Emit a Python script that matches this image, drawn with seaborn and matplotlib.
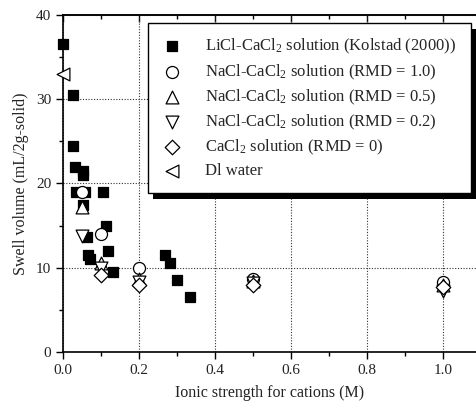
import numpy as np
import pandas as pd
import matplotlib
matplotlib.use("Agg")
import matplotlib.pyplot as plt
from matplotlib.patches import Rectangle
from matplotlib.transforms import IdentityTransform
from matplotlib.ticker import FixedLocator
import seaborn as sns

# LiCl-CaCl2 solution (Kolstad 2000)
licl_x = [0.0, 0.026, 0.026, 0.032, 0.053, 0.053, 0.034, 0.058, 0.106, 0.053,
          0.113, 0.064, 0.066, 0.070, 0.119, 0.132, 0.268, 0.282, 0.299, 0.334]
licl_y = [36.5, 30.5, 24.5, 22.0, 21.5, 21.0, 19.0, 19.0, 19.0, 17.4,
          15.0, 13.6, 11.5, 11.0, 12.0, 9.5, 11.5, 10.5, 8.5, 6.5]

# NaCl-CaCl2 solutions at different RMD
nacl_x = [0.05, 0.1, 0.2, 0.5, 1.0]
rmd10_y = [19.0, 14.0, 10.0, 8.6, 8.3]
rmd05_y = [17.2, 10.5, 8.7, 8.4, 8.0]
rmd02_y = [13.8, 10.0, 8.3, 8.2, 7.2]

# CaCl2 solution (RMD = 0)
cacl_x = [0.1, 0.2, 0.5, 1.0]
cacl_y = [9.1, 8.0, 7.9, 7.7]

# deionised water
di_x = [0.0]
di_y = [33.0]

x_ticks = [0.0, 0.2, 0.4, 0.6, 0.8, 1.0]
x_minor = [0.1, 0.3, 0.5, 0.7, 0.9]
y_ticks = [0, 10, 20, 30, 40]
y_minor = [5, 15, 25, 35]

sns.set_theme(style="ticks")
plt.rcParams["font.family"] = ["Liberation Serif", "DejaVu Serif"]
plt.rcParams["mathtext.fontset"] = "custom"
plt.rcParams["mathtext.rm"] = "Liberation Serif"
plt.rcParams["mathtext.it"] = "Liberation Serif:italic"
plt.rcParams["xtick.minor.visible"] = True
plt.rcParams["ytick.minor.visible"] = True

fig = plt.figure(figsize=(4.77, 4.05), dpi=100)
ax = fig.add_axes([0.132, 0.131, 0.868, 0.832])

series = [
    (licl_x, licl_y, "s", "black", "LiCl-CaCl$_2$ solution (Kolstad (2000))", 60),
    (nacl_x, rmd10_y, "o", "white", "NaCl-CaCl$_2$ solution (RMD = 1.0)", 75),
    (nacl_x, rmd05_y, "^", "white", "NaCl-CaCl$_2$ solution (RMD = 0.5)", 85),
    (nacl_x, rmd02_y, "v", "white", "NaCl-CaCl$_2$ solution (RMD = 0.2)", 85),
    (cacl_x, cacl_y, "D", "white", "CaCl$_2$ solution (RMD = 0)", 55),
    (di_x, di_y, "<", "white", "Dl water", 85),
]

for xs, ys, mk, fc, lab, s in series:
    df = pd.DataFrame({"x": xs, "y": ys})
    sns.scatterplot(data=df, x="x", y="y", marker=mk, s=s, facecolor=fc,
                    edgecolor="black", linewidth=0.9, label=lab, ax=ax,
                    clip_on=False, zorder=3)

ax.set_xlim(0, 1.09)
ax.set_ylim(0, 40)
ax.xaxis.set_major_locator(FixedLocator(x_ticks))
ax.xaxis.set_minor_locator(FixedLocator(x_minor))
ax.yaxis.set_major_locator(FixedLocator(y_ticks))
ax.yaxis.set_minor_locator(FixedLocator(y_minor))
ax.set_xticklabels([f"{v:.1f}" for v in x_ticks])

ax.tick_params(axis="both", which="major", direction="out", length=5,
               width=1, labelsize=11, color="black", labelcolor="#222222")
ax.tick_params(axis="both", which="minor", direction="out", length=3,
               width=1, color="black")
ax.tick_params(axis="x", which="both", top=False, bottom=True)
ax.tick_params(axis="y", which="both", right=False, left=True)

for side in ["left", "bottom", "top"]:
    ax.spines[side].set_visible(True)
    ax.spines[side].set_linewidth(1.2)
    ax.spines[side].set_color("black")
ax.spines["right"].set_visible(False)

# inward ticks on the top spine
sec = ax.secondary_xaxis("top")
sec.xaxis.set_major_locator(FixedLocator(x_ticks))
sec.xaxis.set_minor_locator(FixedLocator(x_minor))
sec.tick_params(which="major", direction="in", length=5, width=1,
                labeltop=False, color="black")
sec.tick_params(which="minor", direction="in", length=3, width=1,
                color="black")
sec.spines["top"].set_linewidth(1.2)

ax.grid(True, which="major", linestyle=(0, (1, 1.5)), color="#333333",
        linewidth=0.8)
ax.grid(False, which="minor")
ax.set_axisbelow(True)

ax.set_xlabel("Ionic strength for cations (M)", fontsize=11.5, color="#222222",
              labelpad=6)
ax.set_ylabel("Swell volume (mL/2g-solid)", fontsize=11.5, color="#222222",
              labelpad=5)

leg = ax.legend(loc="upper left", bbox_to_anchor=(0.205, 0.976),
                frameon=True, fancybox=False, shadow=False, fontsize=12,
                handletextpad=1.4, borderpad=0.85, labelspacing=0.36,
                handlelength=1.2, borderaxespad=0)
leg.get_frame().set_edgecolor("black")
leg.get_frame().set_linewidth(1.0)
leg.get_frame().set_facecolor("white")
leg.get_frame().set_alpha(1)
leg.set_zorder(6)

fig.canvas.draw()
bb = leg.get_window_extent()
shadow = Rectangle((bb.x0 + 5, bb.y0 - 6), bb.width, bb.height,
                   transform=IdentityTransform(), facecolor="black",
                   edgecolor="none", zorder=5.5, clip_on=False)
ax.add_artist(shadow)

fig.savefig("out.png", dpi=100)
